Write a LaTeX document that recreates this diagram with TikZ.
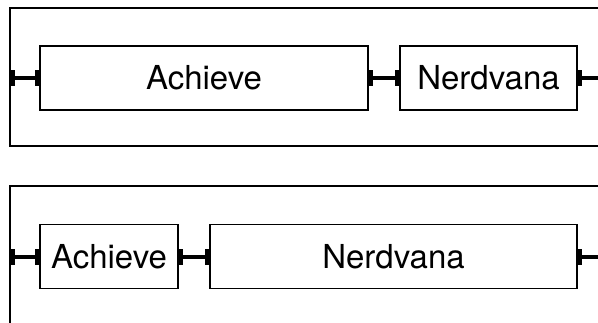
\documentclass[tikz,border=0pt]{standalone}
\usepackage{fontspec}
\setmainfont{TeX Gyre Heros}
\usetikzlibrary{arrows.meta,positioning}
\tikzset{
  frameline/.style={line width=1.3pt},
  blockbox/.style={draw,line width=1.3pt,minimum height=64pt,inner sep=0pt,outer sep=0pt,font=\fontsize{33}{36}\selectfont},
  linkbar/.style={line width=4pt,{Bar[width=16pt,line width=5pt]}-{Bar[width=16pt,line width=5pt]}},
  linkout/.style={line width=4pt,{Bar[width=16pt,line width=5pt]}-}
}
\begin{document}
\begin{tikzpicture}[x=1pt,y=1pt]
  \useasboundingbox (0,0) rectangle (598,322);
  \clip (0,0) rectangle (598,322);

  % upper row
  \draw[frameline] (10,314) rectangle (620,176);
  \node[blockbox,minimum width=328pt] (achA) at (204,244) {Achieve};
  \node[blockbox,minimum width=177pt] (nerdA) at (488.5,244) {Nerdvana};
  \coordinate (inA) at (10,244);
  \coordinate (outA) at (598,244);
  \draw[linkbar] (inA) -- (achA.west);
  \draw[linkbar] (achA.east) -- (nerdA.west);
  \draw[linkout] (nerdA.east) -- (outA);

  % lower row
  \draw[frameline] (10,136) rectangle (620,-20);
  \node[blockbox,minimum width=138pt] (achB) at (109,65.5) {Achieve};
  \node[blockbox,minimum width=367pt] (nerdB) at (393.5,65.5) {Nerdvana};
  \coordinate (inB) at (10,65.5);
  \coordinate (outB) at (598,65.5);
  \draw[linkbar] (inB) -- (achB.west);
  \draw[linkbar] (achB.east) -- (nerdB.west);
  \draw[linkout] (nerdB.east) -- (outB);
\end{tikzpicture}
\end{document}
